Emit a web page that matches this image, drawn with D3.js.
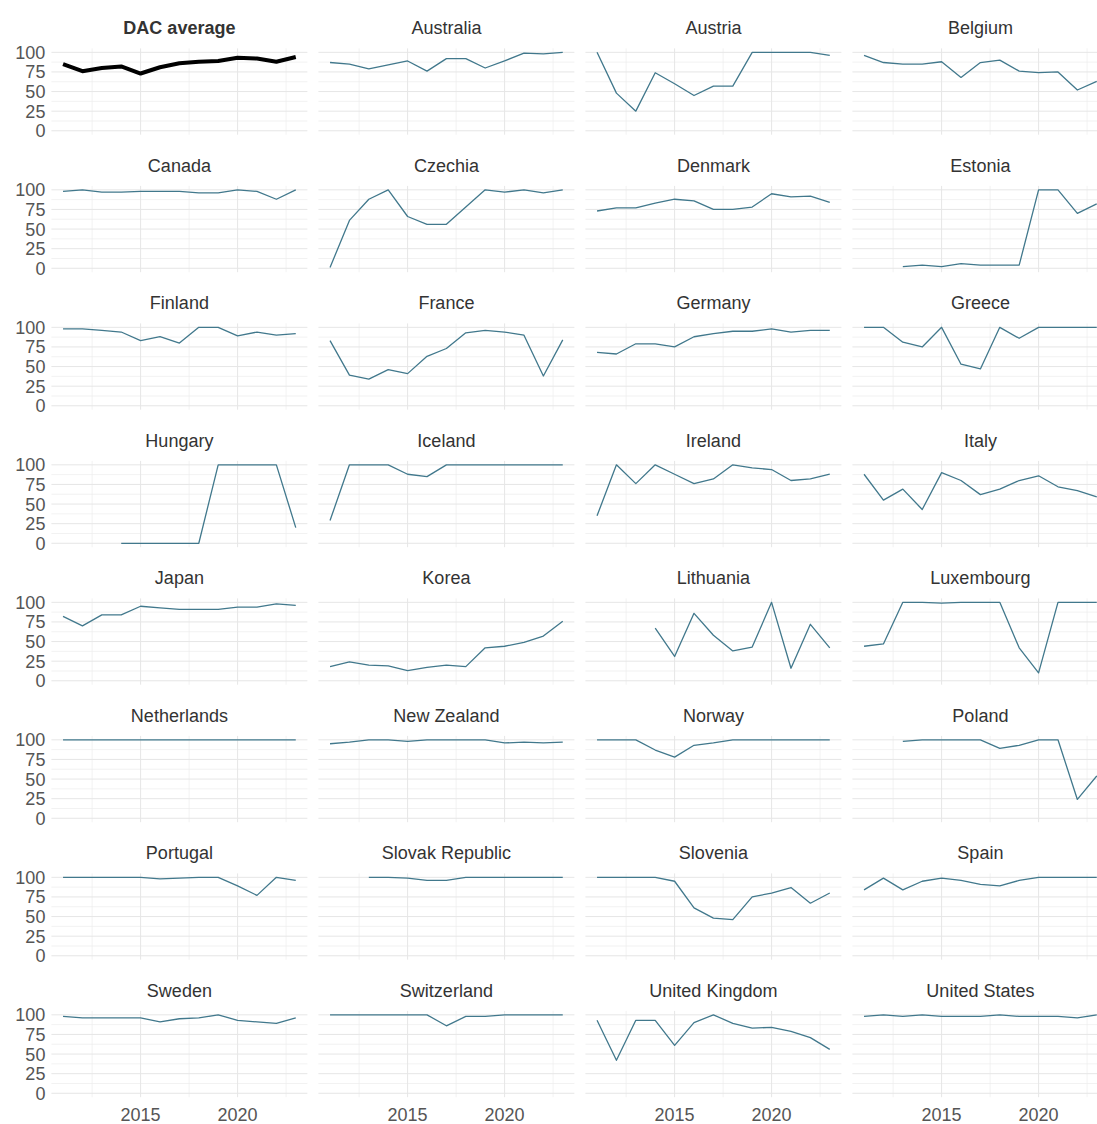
<!DOCTYPE html>
<html>
<head>
<meta charset="utf-8">
<script src="https://cdn.jsdelivr.net/npm/d3@7"></script>
<style>
  html, body { margin: 0; padding: 0; background: #fff; overflow: hidden; }
  svg { display: block; font-family: "Liberation Sans", Arial, sans-serif; }
</style>
</head>
<body>
<div id="chart"></div>
<script>
// Years shown on every panel
const years = [2011, 2012, 2013, 2014, 2015, 2016, 2017, 2018, 2019, 2020, 2021, 2022, 2023];

// Panel titles, in facet order (row by row)
const countries = [
  "DAC average", "Australia", "Austria", "Belgium",
  "Canada", "Czechia", "Denmark", "Estonia",
  "Finland", "France", "Germany", "Greece",
  "Hungary", "Iceland", "Ireland", "Italy",
  "Japan", "Korea", "Lithuania", "Luxembourg",
  "Netherlands", "New Zealand", "Norway", "Poland",
  "Portugal", "Slovak Republic", "Slovenia", "Spain",
  "Sweden", "Switzerland", "United Kingdom", "United States"
];

// Values per country, 2011..2023 (null = no data)
const dacAverage    = [85, 76, 80, 82, 73, 81, 86, 88, 89, 93, 92, 88, 94];
const australia     = [87, 85, 79, 84, 89, 76, 92, 92, 80, 89, 99, 98, 100];
const austria       = [100, 48, 25, 74, 60, 45, 57, 57, 100, 100, 100, 100, 96];
const belgium       = [96, 87, 85, 85, 88, 68, 87, 90, 76, 74, 75, 52, 63];
const canada        = [98, 100, 97, 97, 98, 98, 98, 96, 96, 100, 98, 88, 100];
const czechia       = [1, 61, 88, 100, 66, 56, 56, 78, 100, 97, 100, 96, 100];
const denmark       = [73, 77, 77, 83, 88, 86, 75, 75, 78, 95, 91, 92, 84];
const estonia       = [null, null, 2, 4, 2, 6, 4, 4, 4, 100, 100, 70, 82];
const finland       = [98, 98, 96, 94, 83, 88, 80, 100, 100, 89, 94, 90, 92];
const france        = [83, 39, 34, 46, 41, 63, 73, 93, 96, 94, 90, 38, 84];
const germany       = [68, 66, 79, 79, 75, 88, 92, 95, 95, 98, 94, 96, 96];
const greece        = [100, 100, 81, 75, 100, 53, 47, 100, 86, 100, 100, 100, 100];
const hungary       = [null, null, null, 0, 0, 0, 0, 0, 100, 100, 100, 100, 20];
const iceland       = [29, 100, 100, 100, 88, 85, 100, 100, 100, 100, 100, 100, 100];
const ireland       = [35, 100, 76, 100, 88, 76, 82, 100, 96, 94, 80, 82, 88];
const italy         = [88, 55, 69, 43, 90, 80, 62, 69, 80, 86, 72, 67, 59];
const japan         = [82, 70, 84, 84, 95, 93, 91, 91, 91, 94, 94, 98, 96];
const korea         = [18, 24, 20, 19, 13, 17, 20, 18, 42, 44, 49, 57, 76];
const lithuania     = [null, null, null, 67, 31, 86, 58, 38, 43, 100, 16, 72, 42];
const luxembourg    = [44, 47, 100, 100, 99, 100, 100, 100, 42, 10, 100, 100, 100];
const netherlands   = [100, 100, 100, 100, 100, 100, 100, 100, 100, 100, 100, 100, 100];
const newZealand    = [95, 97, 100, 100, 98, 100, 100, 100, 100, 96, 97, 96, 97];
const norway        = [100, 100, 100, 87, 78, 93, 96, 100, 100, 100, 100, 100, 100];
const poland        = [null, null, 98, 100, 100, 100, 100, 89, 93, 100, 100, 24, 54];
const portugal      = [100, 100, 100, 100, 100, 98, 99, 100, 100, 89, 77, 100, 96];
const slovakRep     = [null, null, 100, 100, 99, 96, 96, 100, 100, 100, 100, 100, 100];
const slovenia      = [100, 100, 100, 100, 95, 61, 48, 46, 75, 80, 87, 67, 80];
const spain         = [84, 99, 84, 95, 99, 96, 91, 89, 96, 100, 100, 100, 100];
const sweden        = [98, 96, 96, 96, 96, 91, 95, 96, 100, 93, 91, 89, 96];
const switzerland   = [100, 100, 100, 100, 100, 100, 86, 98, 98, 100, 100, 100, 100];
const unitedKingdom = [93, 42, 93, 93, 61, 90, 100, 89, 83, 84, 79, 71, 56];
const unitedStates  = [98, 100, 98, 100, 98, 98, 98, 100, 98, 98, 98, 96, 100];

const seriesValues = [
  dacAverage, australia, austria, belgium,
  canada, czechia, denmark, estonia,
  finland, france, germany, greece,
  hungary, iceland, ireland, italy,
  japan, korea, lithuania, luxembourg,
  netherlands, newZealand, norway, poland,
  portugal, slovakRep, slovenia, spain,
  sweden, switzerland, unitedKingdom, unitedStates
];

const yTicks = [0, 25, 50, 75, 100];
const yMinor = [12.5, 37.5, 62.5, 87.5];
const xTicks = [2015, 2020];
const xMinor = [2012.5, 2017.5, 2022.5];

const width = 1097, height = 1124;
const nCols = 4;
const panelLeft = 51.4, panelTop = 48.4;
const panelW = 256, panelH = 86.3;
const colStep = 267, rowStep = 137.5;
const nRows = Math.ceil(countries.length / nCols);

const svg = d3.select("#chart").append("svg")
    .attr("width", width)
    .attr("height", height);

const x = d3.scaleLinear().domain([2010.4, 2023.6]).range([0, panelW]);
const y = d3.scaleLinear().domain([-5, 105]).range([panelH, 0]);

const line = d3.line()
    .defined(d => d.v != null)
    .x(d => x(d.year))
    .y(d => y(d.v));

countries.forEach((name, i) => {
    const col = i % nCols, row = Math.floor(i / nCols);
    const g = svg.append("g")
        .attr("transform", `translate(${panelLeft + col * colStep},${panelTop + row * rowStep})`);

    // grid
    g.append("g").selectAll("line.hmin")
        .data(yMinor).join("line")
        .attr("x1", 0).attr("x2", panelW)
        .attr("y1", d => y(d)).attr("y2", d => y(d))
        .attr("stroke", "#ededed").attr("stroke-width", 0.7);
    g.append("g").selectAll("line.vmin")
        .data(xMinor).join("line")
        .attr("x1", d => x(d)).attr("x2", d => x(d))
        .attr("y1", 0).attr("y2", panelH)
        .attr("stroke", "#ededed").attr("stroke-width", 0.7);
    g.append("g").selectAll("line.hmaj")
        .data(yTicks).join("line")
        .attr("x1", 0).attr("x2", panelW)
        .attr("y1", d => y(d)).attr("y2", d => y(d))
        .attr("stroke", "#e6e6e6").attr("stroke-width", 1);
    g.append("g").selectAll("line.vmaj")
        .data(xTicks).join("line")
        .attr("x1", d => x(d)).attr("x2", d => x(d))
        .attr("y1", 0).attr("y2", panelH)
        .attr("stroke", "#e6e6e6").attr("stroke-width", 1);

    // title
    g.append("text")
        .attr("x", panelW / 2)
        .attr("y", -14)
        .attr("text-anchor", "middle")
        .style("font-size", "18px")
        .style("font-weight", i === 0 ? "bold" : "normal")
        .style("fill", "#333")
        .text(name);

    // y labels on first column
    if (col === 0) {
        g.append("g").selectAll("text")
            .data(yTicks).join("text")
            .attr("x", -6)
            .attr("y", d => y(d))
            .attr("dy", "0.36em")
            .attr("text-anchor", "end")
            .style("font-size", "18px")
            .style("fill", "#555")
            .text(d => d);
    }

    // x labels on last row
    if (row === nRows - 1) {
        g.append("g").selectAll("text")
            .data(xTicks).join("text")
            .attr("x", d => x(d))
            .attr("y", panelH + 24)
            .attr("text-anchor", "middle")
            .style("font-size", "18px")
            .style("fill", "#555")
            .text(d => d);
    }

    const pts = years.map((yr, k) => ({ year: yr, v: seriesValues[i][k] }));
    g.append("path")
        .datum(pts)
        .attr("d", line)
        .attr("fill", "none")
        .attr("stroke", i === 0 ? "#000" : "#41788c")
        .attr("stroke-width", i === 0 ? 4 : 1.3)
        .attr("stroke-linejoin", "round");
});
</script>
</body>
</html>
